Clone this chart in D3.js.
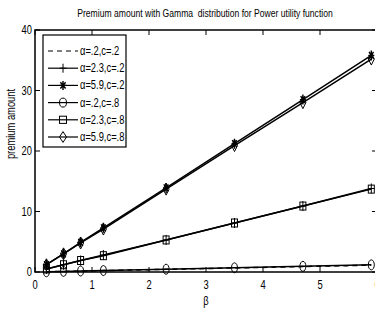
<!DOCTYPE html>
<html>
<head>
<meta charset="utf-8">
<script src="https://cdn.jsdelivr.net/npm/d3@7"></script>
<style>
  body { margin: 0; background: #fff; }
  svg { display: block; }
  text { font-family: "Liberation Sans", Arial, sans-serif; fill: #000; }
</style>
</head>
<body>
<div id="chart"></div>
<script>
// beta values shared by all series
const betas = [0.2, 0.5, 0.8, 1.2, 2.3, 3.5, 4.7, 5.9];

const seriesNames = ['α=.2,c=.2', 'α=2.3,c=.2', 'α=5.9,c=.2', 'α=.2,c=.8', 'α=2.3,c=.8', 'α=5.9,c=.8'];
const a02c02 = [0.04, 0.10, 0.15, 0.23, 0.44, 0.67, 0.90, 1.13];
const a23c02 = [0.5, 1.2, 1.9, 2.8, 5.3, 8.1, 10.9, 13.8];
const a59c02 = [1.2, 3.0, 4.9, 7.3, 13.9, 21.2, 28.5, 35.8];
const a02c08 = [0.04, 0.10, 0.16, 0.24, 0.46, 0.70, 0.94, 1.18];
const a23c08 = [0.5, 1.2, 1.9, 2.7, 5.3, 8.1, 10.9, 13.7];
const a59c08 = [1.2, 3.0, 4.8, 7.1, 13.7, 20.9, 28.0, 35.2];

const xTicks = [0, 1, 2, 3, 4, 5, 6];
const yTicks = [0, 10, 20, 30, 40];

const W = 375, H = 316;
const margin = { left: 35, top: 30, right: -2, bottom: 44 };
const squeeze = 0.78; // the original uses a condensed face

const series = [
  { name: seriesNames[0], values: a02c02, marker: 'none', dash: '5,4' },
  { name: seriesNames[1], values: a23c02, marker: 'plus' },
  { name: seriesNames[2], values: a59c02, marker: 'star' },
  { name: seriesNames[3], values: a02c08, marker: 'circle' },
  { name: seriesNames[4], values: a23c08, marker: 'square' },
  { name: seriesNames[5], values: a59c08, marker: 'diamond' }
];

const svg = d3.select('#chart').append('svg')
  .attr('width', W)
  .attr('height', H);

const x = d3.scaleLinear().domain([0, 6]).range([margin.left, W - margin.right]);
const y = d3.scaleLinear().domain([0, 40]).range([H - margin.bottom, margin.top]);

// narrow text helper
function ntext(g, tx, ty, str, size, anchor, rot) {
  return g.append('text')
    .attr('transform', `translate(${tx},${ty})` + (rot ? ` rotate(${rot})` : '') + ` scale(${squeeze},1)`)
    .attr('text-anchor', anchor || 'start')
    .style('font-size', size + 'px')
    .text(str);
}

// title
ntext(svg, 205, 17, 'Premium amount with Gamma  distribution for Power utility function', 11, 'middle')
  .style('white-space', 'pre');

// axis box
const x0 = x(0), x1 = x(6), yb = y(0), yt = y(40);
svg.append('rect')
  .attr('x', x0).attr('y', yt)
  .attr('width', x1 - x0).attr('height', yb - yt)
  .attr('fill', 'none').attr('stroke', '#000').attr('stroke-width', 1.5);

// inward ticks
const tl = 5;
const tickG = svg.append('g').attr('stroke', '#000').attr('stroke-width', 1);
xTicks.forEach(t => {
  tickG.append('line').attr('x1', x(t)).attr('x2', x(t)).attr('y1', yb).attr('y2', yb - tl);
  tickG.append('line').attr('x1', x(t)).attr('x2', x(t)).attr('y1', yt).attr('y2', yt + tl);
});
yTicks.forEach(t => {
  tickG.append('line').attr('x1', x0).attr('x2', x0 + tl).attr('y1', y(t)).attr('y2', y(t));
  tickG.append('line').attr('x1', x1).attr('x2', x1 - tl).attr('y1', y(t)).attr('y2', y(t));
});

// tick labels
const tg = svg.append('g');
xTicks.forEach(t => ntext(tg, x(t), yb + 17, t, 12, 'middle'));
yTicks.forEach(t => ntext(tg, x0 - 3, y(t) + 4, t, 12, 'end'));

// axis labels
ntext(svg, x(3), yb + 33, 'β', 12, 'middle');
ntext(svg, 15, 124, 'premium amount', 12, 'middle', -90);

// marker drawing
function drawMarker(g, type, cx, cy, sx, sy) {
  const apply = sel => sel.attr('fill', 'none').attr('stroke', '#000').attr('stroke-width', 1);
  if (type === 'circle') {
    apply(g.append('ellipse').attr('cx', cx).attr('cy', cy).attr('rx', sx).attr('ry', sy));
  } else if (type === 'square') {
    apply(g.append('rect').attr('x', cx - sx).attr('y', cy - sy * 0.8).attr('width', sx * 2).attr('height', sy * 1.6));
  } else if (type === 'diamond') {
    apply(g.append('path').attr('d', `M${cx},${cy - sy * 1.2}L${cx + sx},${cy}L${cx},${cy + sy * 1.2}L${cx - sx},${cy}Z`));
  } else if (type === 'plus') {
    apply(g.append('path').attr('d', `M${cx - sx},${cy}H${cx + sx}M${cx},${cy - sy}V${cy + sy}`));
  } else if (type === 'star') {
    apply(g.append('path').attr('d',
      `M${cx - sx},${cy}H${cx + sx}M${cx},${cy - sy}V${cy + sy}` +
      `M${cx - sx * 0.75},${cy - sy * 0.7}L${cx + sx * 0.75},${cy + sy * 0.7}` +
      `M${cx - sx * 0.75},${cy + sy * 0.7}L${cx + sx * 0.75},${cy - sy * 0.7}`))
      .attr('stroke-width', 1.4);
  }
}

// lines + markers
const line = d3.line().x((d, i) => x(betas[i])).y(d => y(d));
const plot = svg.append('g');
series.forEach(s => {
  plot.append('path')
    .attr('d', line(s.values))
    .attr('fill', 'none')
    .attr('stroke', '#000')
    .attr('stroke-width', 1.5)
    .attr('stroke-dasharray', s.dash || null);
});
series.forEach(s => {
  if (s.marker === 'none') return;
  s.values.forEach((v, i) => drawMarker(plot, s.marker, x(betas[i]), y(v), 3, 5));
});

// legend
const lg = svg.append('g');
const lx = 43, ly = 35, lw = 83, lh = 112;
lg.append('rect')
  .attr('x', lx).attr('y', ly).attr('width', lw).attr('height', lh)
  .attr('fill', '#fff').attr('stroke', '#000').attr('stroke-width', 1.2);
series.forEach((s, i) => {
  const yy = ly + 16 + i * 17.2;
  lg.append('line')
    .attr('x1', lx + 5).attr('x2', lx + 35).attr('y1', yy).attr('y2', yy)
    .attr('stroke', '#000').attr('stroke-width', 1.2)
    .attr('stroke-dasharray', s.dash || null);
  if (s.marker !== 'none') drawMarker(lg, s.marker, lx + 20, yy, 3.5, 4.5);
  ntext(lg, lx + 37, yy + 4, s.name, 12, 'start');
});
</script>
</body>
</html>
